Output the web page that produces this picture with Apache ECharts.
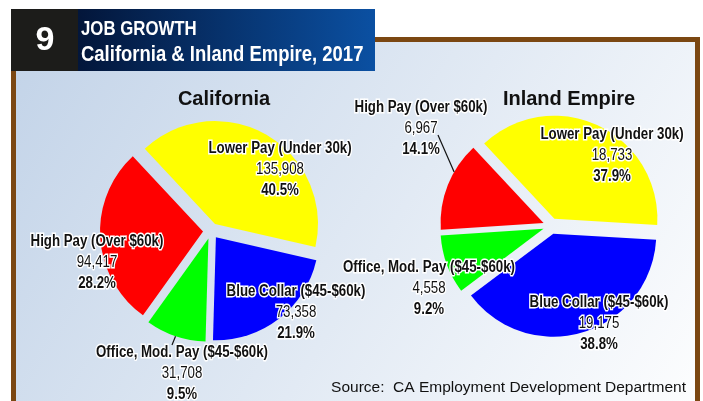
<!DOCTYPE html>
<html>
<head>
<meta charset="utf-8">
<script src="https://cdn.jsdelivr.net/npm/echarts@6/dist/echarts.min.js"></script>
<style>
  html, body { margin: 0; padding: 0; background: #fff; }
  #main { width: 703px; height: 401px; }
</style>
</head>
<body>
<div id="main"></div>
<script>
var categories = ['Lower Pay (Under 30k)', 'Blue Collar ($45-$60k)', 'Office, Mod. Pay ($45-$60k)', 'High Pay (Over $60k)'];
var californiaJobs = [135908, 73358, 31708, 94417];
var inlandEmpireJobs = [18733, 19175, 4558, 6967];
var sliceColors = ['#ffff00', '#0000ff', '#00ff00', '#ff0000'];

var sans = '"Liberation Sans", Arial, sans-serif';
var START = 133, RADIUS = 103, OFFSET = 8;
var caCenter = [211, 231], ieCenter = [551, 226];

// label block centres (x, y of first line) per slice
var caLabelPos = [[280, 149], [296, 292], [182, 353], [97, 242]];
var ieLabelPos = [[612, 135], [599, 303], [429, 268], [421, 108]];

function sum(arr) {
    return arr.reduce(function (a, b) { return a + b; }, 0);
}

// point on the outer arc of an exploded slice (for leader lines)
function arcPoint(values, idx, frac, center) {
    var total = sum(values), cum = sum(values.slice(0, idx));
    var a0 = START - 360 * cum / total;
    var a1 = a0 - 360 * values[idx] / total;
    var mid = (a0 + a1) / 2 * Math.PI / 180;
    var a = (a0 + (a1 - a0) * frac) * Math.PI / 180;
    var cx = center[0] + OFFSET * Math.cos(mid);
    var cy = center[1] - OFFSET * Math.sin(mid);
    return [cx + RADIUS * Math.cos(a), cy - RADIUS * Math.sin(a)];
}

function labelText(x, y, text, bold) {
    return {
        type: 'text',
        x: x, y: y,
        scaleX: 0.83,
        z: 100,
        style: {
            text: text,
            font: (bold ? 'bold ' : '') + '16px ' + sans,
            fill: '#111',
            stroke: '#fff',
            lineWidth: 3,
            align: 'center',
            verticalAlign: 'middle'
        }
    };
}

function makeLabels(values, pos) {
    var total = sum(values);
    var out = [];
    values.forEach(function (v, i) {
        var p = pos[i];
        out.push(labelText(p[0], p[1], categories[i], true));
        out.push(labelText(p[0], p[1] + 21, v.toLocaleString('en-US'), false));
        out.push(labelText(p[0], p[1] + 42, (v / total * 100).toFixed(1) + '%', true));
    });
    return out;
}

function leader(from, to) {
    return {
        type: 'line',
        z: 90,
        shape: { x1: from[0], y1: from[1], x2: to[0], y2: to[1] },
        style: { stroke: '#111', lineWidth: 1.2 }
    };
}

function makePie(values, center) {
    return {
        type: 'pie',
        center: center,
        radius: RADIUS,
        startAngle: START,
        clockwise: true,
        selectedMode: 'multiple',
        selectedOffset: OFFSET,
        animation: false,
        emphasis: { disabled: true },
        label: { show: false },
        labelLine: { show: false },
        data: values.map(function (v, i) {
            return {
                name: categories[i],
                value: v,
                selected: true,
                itemStyle: { color: sliceColors[i], borderWidth: 0 }
            };
        })
    };
}

var chartDom = document.getElementById('main');
var myChart = echarts.init(chartDom);
var option;

var graphics = [
    {
        type: 'rect',
        z: -10,
        shape: { x: 13.5, y: 39.5, width: 684, height: 420 },
        style: {
            fill: new echarts.graphic.LinearGradient(0, 0, 1, 1, [
                { offset: 0, color: '#c2d3e8' },
                { offset: 1, color: '#ffffff' }
            ]),
            stroke: '#7b4712',
            lineWidth: 5
        }
    },
    {
        type: 'rect',
        shape: { x: 11, y: 9, width: 67, height: 62 },
        style: { fill: '#1c1c1a' }
    },
    {
        type: 'rect',
        shape: { x: 78, y: 9, width: 297, height: 62 },
        style: {
            fill: new echarts.graphic.LinearGradient(0, 0, 1, 0, [
                { offset: 0, color: '#03163a' },
                { offset: 1, color: '#0b50a2' }
            ])
        }
    },
    {
        type: 'text',
        x: 45, y: 41,
        style: {
            text: '9', fill: '#fff', font: 'bold 34px ' + sans,
            align: 'center', verticalAlign: 'middle'
        }
    },
    {
        type: 'text',
        x: 81, y: 29, scaleX: 0.8,
        style: {
            text: 'JOB GROWTH', fill: '#fff', font: 'bold 21px ' + sans,
            verticalAlign: 'middle'
        }
    },
    {
        type: 'text',
        x: 81, y: 55, scaleX: 0.84,
        style: {
            text: 'California & Inland Empire, 2017', fill: '#fff', font: 'bold 22px ' + sans,
            verticalAlign: 'middle'
        }
    },
    leader(arcPoint(californiaJobs, 2, 0.5, caCenter), [172, 345]),
    leader(arcPoint(inlandEmpireJobs, 3, 0.66, ieCenter), [438, 135])
].concat(makeLabels(californiaJobs, caLabelPos), makeLabels(inlandEmpireJobs, ieLabelPos));

option = {
    backgroundColor: '#fff',
    graphic: graphics,
    title: [
        {
            text: 'California',
            left: 219, top: 84, textAlign: 'center',
            textStyle: { fontFamily: sans, fontSize: 20, fontWeight: 'bold', color: '#111' }
        },
        {
            text: 'Inland Empire',
            left: 564, top: 84, textAlign: 'center',
            textStyle: { fontFamily: sans, fontSize: 20, fontWeight: 'bold', color: '#111' }
        },
        {
            text: 'Source:  CA Employment Development Department',
            right: 17, top: 380,
            padding: 0,
            textStyle: { fontFamily: sans, fontSize: 15.5, fontWeight: 'normal', color: '#111' }
        }
    ],
    series: [
        makePie(californiaJobs, caCenter),
        makePie(inlandEmpireJobs, ieCenter)
    ]
};

option && myChart.setOption(option);
window.onresize = function () {
    myChart.resize();
};
</script>
</body>
</html>
